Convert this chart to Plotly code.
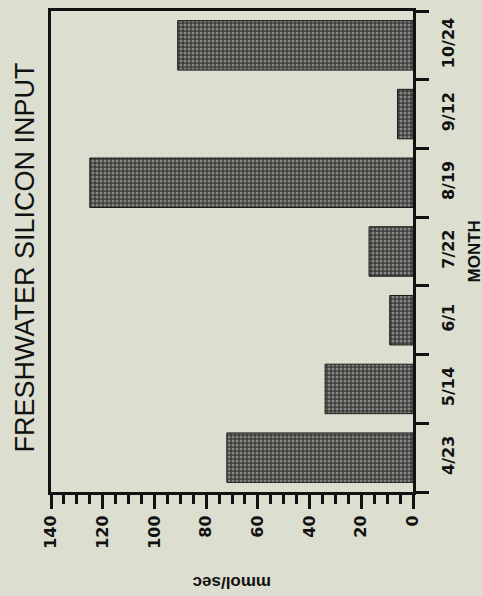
import plotly.graph_objects as go

months = ["4/23", "5/14", "6/1", "7/22", "8/19", "9/12", "10/24"]
values = [72, 34, 9, 17, 125, 6, 91]
value_ticks = [0, 20, 40, 60, 80, 100, 120, 140]

W, H = 482, 596
L, R, T, B = 51, 413, 8, 492
BG = "#dcdecf"

def px_x(x):
    return (x - L) / (R - L)

def px_y(y):
    return (B - y) / (B - T)

fig = go.Figure(go.Bar(
    y=months, x=values, orientation="h", width=0.72,
    marker=dict(color="#4a4a4a", line=dict(color="#1a1a1a", width=1),
                pattern=dict(shape=".", bgcolor="#3c3c3c", fgcolor="#cfcfc6",
                             size=4, solidity=0.45)),
))

fig.update_layout(
    width=W, height=H,
    margin=dict(l=L, r=W - R, t=T, b=H - B),
    paper_bgcolor=BG, plot_bgcolor=BG,
    showlegend=False,
    font=dict(family="Liberation Sans", color="#111"),
)

fig.update_xaxes(
    range=[140, 0], tickvals=value_ticks, ticktext=[str(v) for v in value_ticks],
    ticks="outside", ticklen=14, tickwidth=3, tickcolor="#111",
    minor=dict(dtick=5, ticks="outside", ticklen=9, tickwidth=3, tickcolor="#111"),
    showline=True, linewidth=3, linecolor="#111", mirror=True,
    showgrid=False, zeroline=False, tickangle=-90,
    tickfont=dict(family="DejaVu Sans", size=16, color="#111", weight="bold"),
    ticklabelstandoff=0,
)
fig.update_yaxes(
    side="right", categoryorder="array", categoryarray=months,
    ticks="outside", tickson="boundaries", ticklen=13, tickwidth=3, tickcolor="#111",
    showline=True, linewidth=3, linecolor="#111", mirror=True,
    showgrid=False, tickangle=-90,
    tickfont=dict(family="DejaVu Sans", size=16, color="#111", weight="bold"),
    ticklabelstandoff=19,
)

fig.add_annotation(text="FRESHWATER SILICON INPUT", textangle=-90,
                   xref="paper", yref="paper", x=px_x(25), y=px_y(256),
                   xanchor="center", yanchor="middle",
                   showarrow=False, font=dict(family="Liberation Sans", size=27, color="#111"))
fig.add_annotation(text="<b>MONTH</b>", textangle=-90,
                   xref="paper", yref="paper", x=px_x(474), y=0.5,
                   xanchor="center", yanchor="middle",
                   showarrow=False, font=dict(family="Liberation Sans", size=17, color="#111"))
fig.add_annotation(text="<b>mmol/sec</b>", textangle=180,
                   xref="paper", yref="paper", x=0.5, y=px_y(583),
                   xanchor="center", yanchor="middle",
                   showarrow=False, font=dict(family="Liberation Sans", size=17, color="#111"))

fig.write_html(
    "out.html",
    config={"displayModeBar": False},
    post_script="document.body.style.margin='0';document.body.style.background='" + BG + "';",
)
